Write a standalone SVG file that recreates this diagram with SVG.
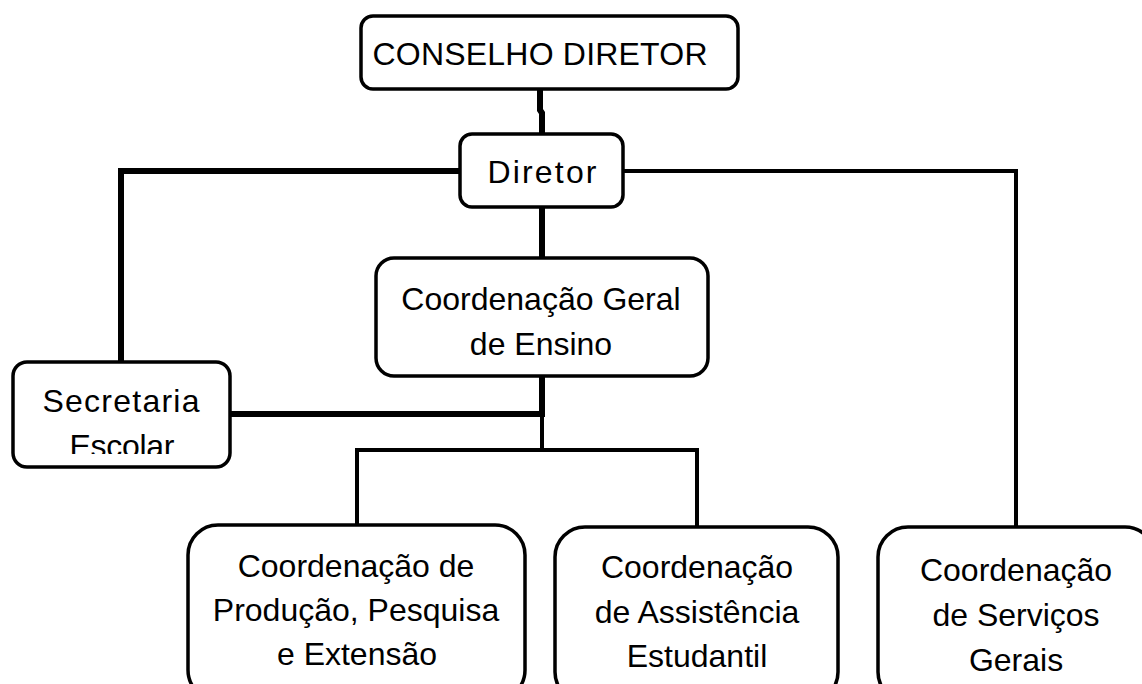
<svg xmlns="http://www.w3.org/2000/svg" width="1142" height="684" viewBox="0 0 1142 684">
<style>
.box{fill:#fff;stroke:#000;stroke-width:3.5}
.t{font-family:"Liberation Sans",Arial,sans-serif;font-size:32px;fill:#000;text-anchor:middle}
.thick{fill:none;stroke:#000;stroke-width:6}
.thin{fill:none;stroke:#000;stroke-width:4}
</style>
<defs>
<clipPath id="clipSec"><rect x="13" y="362" width="217" height="92"/></clipPath>
</defs>
<rect width="1142" height="684" fill="#fff"/>
<g id="connectors">
<path class="thick" d="M540,89 V110 L542,113 V134"/>
<path class="thick" d="M460,171 H121 V362"/>
<path class="thin" d="M623,171 H1016 V527"/>
<path class="thick" d="M542,207 V258"/>
<path class="thick" d="M542,376 V417"/>
<path class="thick" d="M230,414 H545"/>
<path class="thin" d="M542,414 V450 H357 V525 M542,450 H697 V527"/>
</g>
<g id="conselho">
<rect class="box" x="361" y="16" width="377" height="73" rx="12"/>
<text class="t" x="540" y="65" textLength="335" lengthAdjust="spacing">CONSELHO DIRETOR</text>
</g>
<g id="diretor">
<rect class="box" x="460" y="134" width="163" height="73" rx="12"/>
<text class="t" x="542" y="183" textLength="109" lengthAdjust="spacing">Diretor</text>
</g>
<g id="coord-geral">
<rect class="box" x="376" y="258" width="332" height="118" rx="18"/>
<text class="t" x="541" y="310">Coordenação Geral</text>
<text class="t" x="541" y="355">de Ensino</text>
</g>
<g id="secretaria">
<rect class="box" x="13" y="362" width="217" height="105" rx="14"/>
<text class="t" x="121" y="412" textLength="157" lengthAdjust="spacing">Secretaria</text>
<text class="t" x="122" y="457" clip-path="url(#clipSec)" textLength="105" lengthAdjust="spacing">Escolar</text>
</g>
<g id="coord-producao">
<rect class="box" x="188" y="525" width="337" height="175" rx="30"/>
<text class="t" x="356" y="577">Coordenação de</text>
<text class="t" x="356" y="621">Produção, Pesquisa</text>
<text class="t" x="357" y="665">e Extensão</text>
</g>
<g id="coord-assistencia">
<rect class="box" x="555" y="527" width="283" height="175" rx="30"/>
<text class="t" x="697" y="578">Coordenação</text>
<text class="t" x="697" y="623">de Assistência</text>
<text class="t" x="697" y="667">Estudantil</text>
</g>
<g id="coord-servicos">
<rect class="box" x="878" y="527" width="277" height="175" rx="30"/>
<text class="t" x="1016" y="581">Coordenação</text>
<text class="t" x="1016" y="626">de Serviços</text>
<text class="t" x="1016" y="671">Gerais</text>
</g>
</svg>
